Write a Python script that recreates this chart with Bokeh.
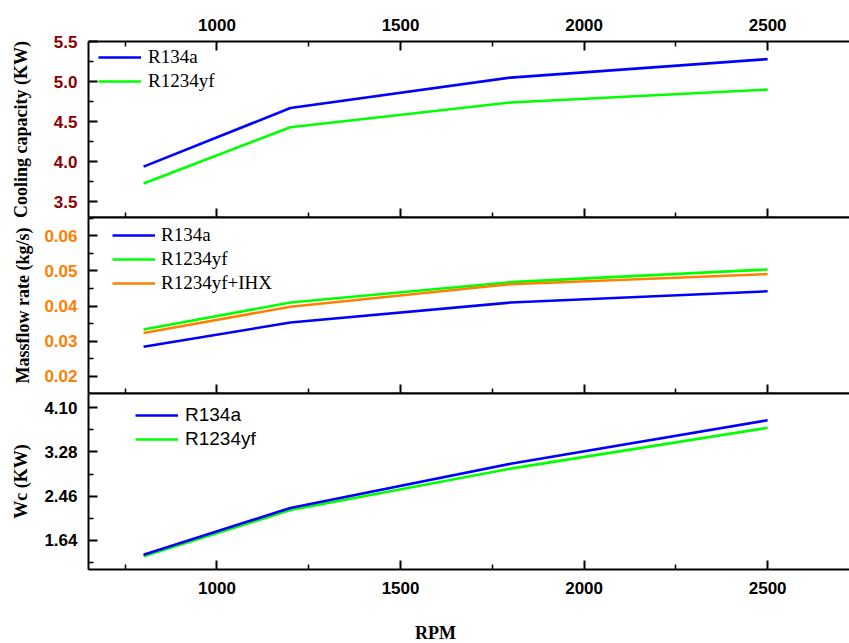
from bokeh.plotting import figure
from bokeh.layouts import column
from bokeh.models import (FixedTicker, PrintfTickFormatter, Legend, LegendItem,
                          LinearAxis, Range1d, Div)
from bokeh.embed import file_html
from bokeh.resources import INLINE

# ---- data ----
rpm = [800, 1200, 1800, 2500]
cap_r134a = [3.94, 4.67, 5.05, 5.28]
cap_r1234yf = [3.73, 4.43, 4.74, 4.90]
mf_r134a = [0.0284, 0.0353, 0.0410, 0.0442]
mf_r1234yf = [0.0333, 0.0410, 0.0468, 0.0504]
mf_r1234yf_ihx = [0.0323, 0.0398, 0.0462, 0.0491]
wc_r134a = [1.37, 2.24, 3.06, 3.87]
wc_r1234yf = [1.34, 2.20, 2.97, 3.73]

x_major = [1000, 1500, 2000, 2500]
x_minor = [750, 1250, 1750, 2250]
cap_ticks = [3.5, 4.0, 4.5, 5.0, 5.5]
cap_minor = [3.25, 3.75, 4.25, 4.75, 5.25]
mf_ticks = [0.02, 0.03, 0.04, 0.05, 0.06]
mf_minor = [0.015, 0.025, 0.035, 0.045, 0.055, 0.065]
wc_ticks = [1.64, 2.46, 3.28, 4.10]
wc_minor = [1.23, 2.05, 2.87, 3.69]

BLUE = "#0000FF"
GREEN = "#00FF00"
ORANGE = "#FF8000"
DARKRED = "#8B0000"
SANS = "Liberation Sans"
SERIF = "Liberation Serif"
W = 849
FRAME_L = 88
XR = (650, 2723)


def style_x(ax, standoff=10):
    ax.ticker = FixedTicker(ticks=x_major, minor_ticks=x_minor)
    ax.axis_line_width = 2
    ax.major_tick_line_width = 2
    ax.minor_tick_line_width = 1.5
    ax.major_tick_in = 9
    ax.major_tick_out = 0
    ax.minor_tick_in = 5
    ax.minor_tick_out = 0
    ax.major_label_text_font = SANS
    ax.major_label_text_font_style = "bold"
    ax.major_label_text_font_size = "17px"
    ax.major_label_text_color = "black"
    ax.major_label_standoff = standoff


def tick_only_axis(positions, length):
    # axis with no labelled ticks: marks drawn as (unlabelled) minor ticks
    ax = LinearAxis()
    ax.ticker = FixedTicker(ticks=[], minor_ticks=positions)
    ax.axis_line_width = 2
    ax.major_tick_line_color = None
    ax.minor_tick_line_width = 2 if length > 6 else 1.5
    ax.minor_tick_in = length
    ax.minor_tick_out = 0
    ax.major_label_standoff = 0
    return ax


def line_only_axis():
    ax = LinearAxis()
    ax.ticker = FixedTicker(ticks=[], minor_ticks=[])
    ax.axis_line_width = 2
    ax.major_tick_line_color = None
    ax.minor_tick_line_color = None
    ax.major_label_standoff = 0
    return ax


def style_y(ax, ticks, minor, fmt, color, label, lab_standoff):
    ax.ticker = FixedTicker(ticks=ticks, minor_ticks=minor)
    ax.formatter = PrintfTickFormatter(format=fmt)
    ax.axis_line_width = 2
    ax.major_tick_line_width = 2
    ax.minor_tick_line_width = 1.5
    ax.major_tick_in = 9
    ax.major_tick_out = 0
    ax.minor_tick_in = 5
    ax.minor_tick_out = 0
    ax.major_label_text_font = SANS
    ax.major_label_text_font_style = "bold"
    ax.major_label_text_font_size = "17px"
    ax.major_label_text_color = color
    ax.major_label_standoff = 11
    ax.axis_label = label
    ax.axis_label_text_font = SERIF
    ax.axis_label_text_font_style = "bold"
    ax.axis_label_text_font_size = "18px"
    ax.axis_label_text_color = "black"
    ax.axis_label_standoff = lab_standoff


def make_fig(height, y_range, x_loc, top, bottom):
    p = figure(width=W, height=height, output_backend="svg", toolbar_location=None,
               x_range=Range1d(*XR), y_range=Range1d(*y_range),
               x_axis_location=x_loc, min_border_left=FRAME_L, min_border_right=0,
               min_border_top=top, min_border_bottom=bottom)
    p.outline_line_color = None
    p.xgrid.visible = False
    p.ygrid.visible = False
    p.border_fill_color = None
    p.background_fill_color = None
    return p


def add_legend(p, items, loc, font, standoff):
    lg = Legend(items=items, location=loc, orientation="vertical")
    lg.border_line_color = None
    lg.background_fill_color = None
    lg.background_fill_alpha = 0
    lg.padding = 0
    lg.margin = 0
    lg.glyph_width = 43
    lg.glyph_height = 22
    lg.label_height = 22
    lg.label_standoff = standoff
    lg.spacing = 2
    lg.label_text_font = font
    lg.label_text_font_size = "19px"
    lg.label_text_color = "black"
    p.add_layout(lg)


# ---- top panel: cooling capacity ----
p1 = make_fig(217, (3.305, 5.5), "above", 41, 0)
style_x(p1.xaxis[0], standoff=11)
p1.add_layout(tick_only_axis(x_major, 9), "below")
p1.add_layout(tick_only_axis(x_minor, 5), "below")
style_y(p1.yaxis[0], cap_ticks, cap_minor, "%.1f", DARKRED, "Cooling capacity (KW)", 20)
r1 = p1.line(rpm, cap_r134a, line_color=BLUE, line_width=2.6)
r2 = p1.line(rpm, cap_r1234yf, line_color=GREEN, line_width=2.6)
add_legend(p1, [LegendItem(label="R134a", renderers=[r1]),
                LegendItem(label="R1234yf", renderers=[r2])], (10, 125), SERIF, 7)

# ---- middle panel: mass flow rate ----
p2 = make_fig(176, (0.0151, 0.0652), None, 0, 0)
p2.add_layout(line_only_axis(), "above")
p2.add_layout(tick_only_axis(x_major, 9), "below")
p2.add_layout(tick_only_axis(x_minor, 5), "below")
style_y(p2.yaxis[0], mf_ticks, mf_minor, "%.2f", ORANGE, "Massflow rate (kg/s)", 8)
m1 = p2.line(rpm, mf_r134a, line_color=BLUE, line_width=2.6)
m2 = p2.line(rpm, mf_r1234yf, line_color=GREEN, line_width=2.6)
m3 = p2.line(rpm, mf_r1234yf_ihx, line_color=ORANGE, line_width=2.6)
add_legend(p2, [LegendItem(label="R134a", renderers=[m1]),
                LegendItem(label="R1234yf", renderers=[m2]),
                LegendItem(label="R1234yf+IHX", renderers=[m3])], (24, 99), SERIF, 6)

# ---- bottom panel: compressor work ----
p3 = make_fig(214, (1.095, 4.367), "below", 0, 38)
style_x(p3.xaxis[0], standoff=12)
p3.add_layout(line_only_axis(), "above")
style_y(p3.yaxis[0], wc_ticks, wc_minor, "%.2f", "black", "Wc (KW)", 10)
w2 = p3.line(rpm, wc_r1234yf, line_color=GREEN, line_width=2.6)
w1 = p3.line(rpm, wc_r134a, line_color=BLUE, line_width=2.6)
add_legend(p3, [LegendItem(label="R134a", renderers=[w1]),
                LegendItem(label="R1234yf", renderers=[w2])], (47, 119), SANS, 7)

# x-axis title (sits left of the frame centre in the source)
rpm_div = Div(text="RPM", width=W, height=36, margin=(0, 0, 0, 0),
              styles={"font-family": SERIF, "font-weight": "bold",
                      "font-size": "18px", "line-height": "21px",
                      "padding-left": "415px", "padding-top": "16px",
                      "color": "black", "box-sizing": "border-box"})

layout = column(p1, p2, p3, rpm_div, spacing=0)
open("out.html", "w").write(file_html(layout, INLINE))
